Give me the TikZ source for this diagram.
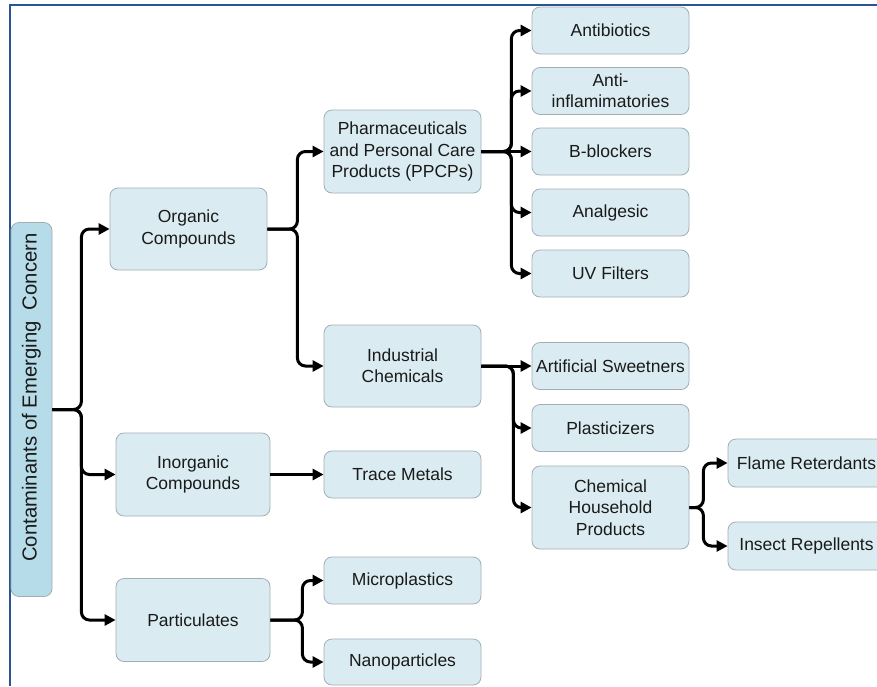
\documentclass[tikz,border=0pt]{standalone}
\usepackage{fontspec}
\setmainfont{Liberation Sans}
\usetikzlibrary{arrows.meta}

\definecolor{boxfill}{HTML}{DAECF2}
\definecolor{rootfill}{HTML}{B5DCE8}
\definecolor{boxline}{HTML}{A3AEB4}
\definecolor{framecol}{HTML}{2B5592}
\definecolor{textcol}{HTML}{1A1A1A}

\tikzset{
  catbox/.style={draw=boxline, line width=0.8pt, fill=boxfill, rounded corners=8pt,
    inner sep=0pt, align=center, text=textcol,
    font={\fontsize{17.5}{21.3}\selectfont}},
  wide/.style={catbox, minimum width=157pt, minimum height=83pt},
  slim/.style={catbox, minimum width=157pt, minimum height=47pt},
  rootbox/.style={draw=boxline, line width=0.8pt, fill=rootfill, rounded corners=8pt,
    inner sep=0pt, rotate=90, minimum width=374pt, minimum height=41pt,
    text=textcol, font={\fontsize{20.3}{24}\selectfont}},
  link/.style={line width=3pt, rounded corners=8pt,
    -{Triangle[length=11pt,width=11pt]}},
  frame/.style={draw=framecol, line width=2pt}
}

\begin{document}
\begin{tikzpicture}[x=1pt,y=1pt]
  \useasboundingbox (0,0) rectangle (877,-686);
  \fill[white] (0,0) rectangle (877,-686);

  % outer frame (top and left edges)
  \draw[frame] (10,-686) -- (10,-5) -- (877,-5);

  % root, label set a little towards the top end
  \node[rootbox] (root) at (31.5,-409.5)
    {\hspace{24pt}Contaminants of Emerging\hspace{0.556em}Concern};

  % level 1
  \node[wide, minimum width=157pt, minimum height=82pt] (org) at (188.5,-229) {Organic\\Compounds};
  \node[wide, minimum width=154pt] (inorg) at (193,-474.5) {Inorganic\\Compounds};
  \node[wide, minimum width=154pt] (part) at (193,-620) {Particulates};

  % level 2
  \node[wide] (ppcp) at (402.5,-151.5) {Pharmaceuticals\\and Personal Care\\Products (PPCPs)};
  \node[wide, minimum height=82pt] (ind) at (402.5,-366) {Industrial\\Chemicals};
  \node[slim] (trace) at (402.5,-474.5) {Trace Metals};
  \node[slim] (micro) at (402.5,-580.5) {Microplastics};
  \node[slim, minimum height=46pt] (nano) at (402.5,-662) {Nanoparticles};

  % level 3: PPCPs
  \node[slim] (anti) at (610.5,-30.5) {Antibiotics};
  \node[slim] (inflam) at (610.5,-91) {Anti-\\inflamimatories};
  \node[slim] (beta) at (610.5,-151.5) {B-blockers};
  \node[slim] (analg) at (610.5,-212.5) {Analgesic};
  \node[slim] (uv) at (610.5,-273.5) {UV Filters};

  % level 3: industrial chemicals
  \node[slim] (sweet) at (610.5,-366) {Artificial Sweetners};
  \node[slim] (plast) at (610.5,-428) {Plasticizers};
  \node[wide] (chem) at (610.5,-507.5) {Chemical\\Household\\Products};

  % level 4: household products
  \node[slim, minimum height=48pt] (flame) at (806.5,-463) {Flame Reterdants};
  \node[slim, minimum height=48pt] (insect) at (806.5,-546) {Insect Repellents};

  % connectors from the root
  \draw[link] (root.south) -- ++(29,0) |- (org.west);
  \draw[link] (root.south) -- ++(29,0) |- (inorg.west);
  \draw[link] (root.south) -- ++(29,0) |- (part.west);

  % organic compounds
  \draw[link] (org.east) -- ++(30,0) |- (ppcp.west);
  \draw[link] (org.east) -- ++(30,0) |- (ind.west);

  % inorganic compounds
  \draw[link] (inorg.east) -- (trace.west);

  % particulates
  \draw[link] (part.east) -- ++(32,0) |- (micro.west);
  \draw[link] (part.east) -- ++(32,0) |- (nano.west);

  % PPCPs
  \draw[link] (ppcp.east) -- ++(30,0) |- (anti.west);
  \draw[link] (ppcp.east) -- ++(30,0) |- (inflam.west);
  \draw[link] (ppcp.east) -- (beta.west);
  \draw[link] (ppcp.east) -- ++(30,0) |- (analg.west);
  \draw[link] (ppcp.east) -- ++(30,0) |- (uv.west);

  % industrial chemicals
  \draw[link] (ind.east) -- (sweet.west);
  \draw[link] (ind.east) -- ++(32,0) |- (plast.west);
  \draw[link] (ind.east) -- ++(32,0) |- (chem.west);

  % household products
  \draw[link] (chem.east) -- ++(14,0) |- (flame.west);
  \draw[link] (chem.east) -- ++(14,0) |- (insect.west);
\end{tikzpicture}
\end{document}
